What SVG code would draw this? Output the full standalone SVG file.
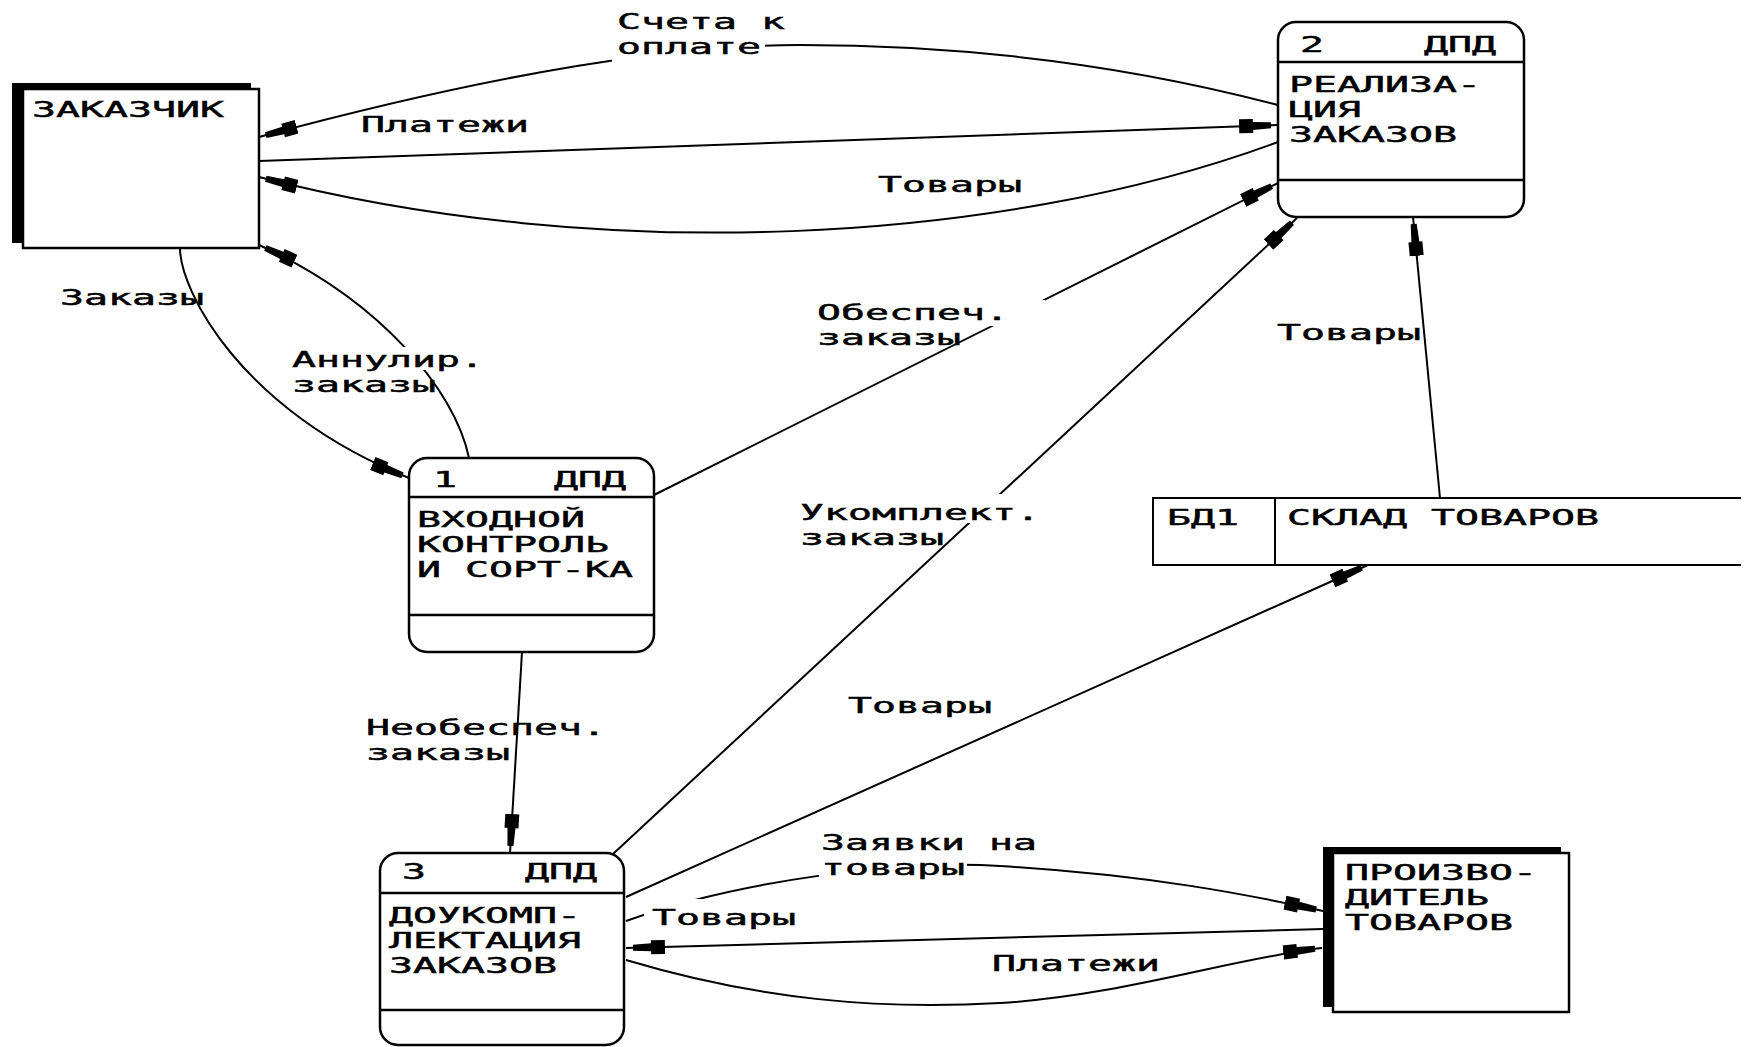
<svg xmlns="http://www.w3.org/2000/svg" width="1746" height="1047" viewBox="0 0 1746 1047">
<style>
  text { font-family: "DejaVu Sans Mono", "Liberation Mono", monospace; font-size: 21.5px; fill: #000; stroke: #000; stroke-width: 0.45; }
  .box { fill: #fff; stroke: #000; stroke-width: 2.5; }
  .shadow { fill: #000; }
  .div { stroke: #000; stroke-width: 2.5; fill: none; }
  .conn { fill: none; stroke: #000; stroke-width: 2; }
  .arr { marker-end: url(#ah); }
  .mask { fill: #fff; }
</style>
<defs>
  <marker id="ah" viewBox="0 -8 39 16" markerWidth="39" markerHeight="16" refX="39" refY="0" orient="auto" markerUnits="userSpaceOnUse">
    <path d="M0,-7 H14 V-4 L32,-3 V3 L14,4 V7 H0 Z" fill="#000"/>
  </marker>
</defs>
<rect width="1746" height="1047" fill="#fff"/>

<g id="zakazchik">
  <rect class="shadow" x="12" y="83" width="239" height="160"/>
  <rect class="box" x="23" y="89" width="236" height="159"/>
  <text x="32" y="117" textLength="192" lengthAdjust="spacingAndGlyphs">ЗАКАЗЧИК</text>
</g>

<g id="process1">
  <rect class="box" x="409" y="458" width="245" height="194" rx="18" ry="18"/>
  <line class="div" x1="409" y1="497" x2="654" y2="497"/>
  <line class="div" x1="409" y1="615" x2="654" y2="615"/>
  <text x="433" y="487" textLength="24" lengthAdjust="spacingAndGlyphs">1</text>
  <text x="554" y="487" textLength="72" lengthAdjust="spacingAndGlyphs">ДПД</text>
  <text x="417" y="527" textLength="168" lengthAdjust="spacingAndGlyphs">ВХОДНОЙ</text>
  <text x="417" y="552" textLength="192" lengthAdjust="spacingAndGlyphs">КОНТРОЛЬ</text>
  <text x="417" y="577" textLength="216" lengthAdjust="spacingAndGlyphs">И СОРТ-КА</text>
</g>

<g id="process2">
  <rect class="box" x="1278" y="22" width="246" height="195" rx="18" ry="18"/>
  <line class="div" x1="1278" y1="62" x2="1524" y2="62"/>
  <line class="div" x1="1278" y1="180" x2="1524" y2="180"/>
  <text x="1300" y="52" textLength="24" lengthAdjust="spacingAndGlyphs">2</text>
  <text x="1424" y="52" textLength="72" lengthAdjust="spacingAndGlyphs">ДПД</text>
  <text x="1289" y="92" textLength="192" lengthAdjust="spacingAndGlyphs">РЕАЛИЗА-</text>
  <text x="1289" y="117" textLength="72" lengthAdjust="spacingAndGlyphs">ЦИЯ</text>
  <text x="1289" y="142" textLength="168" lengthAdjust="spacingAndGlyphs">ЗАКАЗОВ</text>
</g>

<g id="process3">
  <rect class="box" x="380" y="853" width="244" height="192" rx="18" ry="18"/>
  <line class="div" x1="380" y1="893" x2="624" y2="893"/>
  <line class="div" x1="380" y1="1010" x2="624" y2="1010"/>
  <text x="402" y="879" textLength="24" lengthAdjust="spacingAndGlyphs">3</text>
  <text x="525" y="879" textLength="72" lengthAdjust="spacingAndGlyphs">ДПД</text>
  <text x="389" y="923" textLength="192" lengthAdjust="spacingAndGlyphs">ДОУКОМП-</text>
  <text x="389" y="948" textLength="192" lengthAdjust="spacingAndGlyphs">ЛЕКТАЦИЯ</text>
  <text x="389" y="973" textLength="168" lengthAdjust="spacingAndGlyphs">ЗАКАЗОВ</text>
</g>

<g id="store1">
  <path class="conn" d="M1741,498 H1153 V565 H1741 M1275,498 V565"/>
  <text x="1167" y="525" textLength="72" lengthAdjust="spacingAndGlyphs">БД1</text>
  <text x="1287" y="525" textLength="312" lengthAdjust="spacingAndGlyphs">СКЛАД ТОВАРОВ</text>
</g>

<g id="proizvoditel">
  <rect class="shadow" x="1323" y="847" width="238" height="160"/>
  <rect class="box" x="1333" y="853" width="236" height="159"/>
  <text x="1345" y="880" textLength="192" lengthAdjust="spacingAndGlyphs">ПРОИЗВО-</text>
  <text x="1345" y="905" textLength="144" lengthAdjust="spacingAndGlyphs">ДИТЕЛЬ</text>
  <text x="1345" y="930" textLength="168" lengthAdjust="spacingAndGlyphs">ТОВАРОВ</text>
</g>

<g id="connectors">
  <path id="c-scheta" class="conn arr" d="M1278,105 Q1050,45 800,45 Q600,45 259,137"/>
  <path id="c-platezhi1" class="conn arr" d="M259,161 L1278,125"/>
  <path id="c-tovary1" class="conn arr" d="M1278,142 C1000,245 600,265 259,177"/>
  <path id="c-zakazy" class="conn arr" d="M180,248 C180,290 240,410 409,478"/>
  <path id="c-annulir" class="conn arr" d="M469,458 C455,390 380,300 259,245"/>
  <path id="c-obespech" class="conn arr" d="M654,495 L1278,183"/>
  <path id="c-ukomplekt" class="conn arr" d="M613,854 L1297,218"/>
  <path id="c-tovary-store-2" class="conn arr" d="M1440,498 L1413,217"/>
  <path id="c-tovary-3-store" class="conn arr" d="M626,897 L1368,565"/>
  <path id="c-neobespech" class="conn arr" d="M522,652 L510,853"/>
  <path id="c-zayavki" class="conn arr" d="M626,921 C740,880 900,860 1000,866 C1150,875 1250,895 1323,911"/>
  <path id="c-tovary-prod-3" class="conn arr" d="M1323,929 L626,948"/>
  <path id="c-platezhi2" class="conn arr" d="M626,960 C760,1000 880,1010 1000,1003 C1120,996 1235,958 1322,948"/>
</g>

<g id="labels">
  <rect class="mask" x="612" y="36" width="153" height="26"/>
  <rect class="mask" x="290" y="347" width="196" height="23"/>
  <rect class="mask" x="815" y="300" width="230" height="26"/>
  <rect class="mask" x="798" y="494" width="244" height="29"/>
  <rect class="mask" x="819" y="858" width="148" height="24"/>
  <rect class="mask" x="644" y="899" width="154" height="30"/>

  <text x="617" y="29" textLength="168" lengthAdjust="spacingAndGlyphs">Счета к</text>
  <text x="617" y="54" textLength="144" lengthAdjust="spacingAndGlyphs">оплате</text>
  <text x="361" y="132" textLength="168" lengthAdjust="spacingAndGlyphs">Платежи</text>
  <text x="878" y="192" textLength="144" lengthAdjust="spacingAndGlyphs">Товары</text>
  <text x="60" y="305" textLength="144" lengthAdjust="spacingAndGlyphs">Заказы</text>
  <text x="292" y="367" textLength="192" lengthAdjust="spacingAndGlyphs">Аннулир.</text>
  <text x="292" y="392" textLength="144" lengthAdjust="spacingAndGlyphs">заказы</text>
  <text x="817" y="320" textLength="192" lengthAdjust="spacingAndGlyphs">Обеспеч.</text>
  <text x="817" y="345" textLength="144" lengthAdjust="spacingAndGlyphs">заказы</text>
  <text x="1277" y="340" textLength="144" lengthAdjust="spacingAndGlyphs">Товары</text>
  <text x="800" y="520" textLength="240" lengthAdjust="spacingAndGlyphs">Укомплект.</text>
  <text x="800" y="545" textLength="144" lengthAdjust="spacingAndGlyphs">заказы</text>
  <text x="848" y="713" textLength="144" lengthAdjust="spacingAndGlyphs">Товары</text>
  <text x="366" y="735" textLength="240" lengthAdjust="spacingAndGlyphs">Необеспеч.</text>
  <text x="366" y="760" textLength="144" lengthAdjust="spacingAndGlyphs">заказы</text>
  <text x="821" y="850" textLength="216" lengthAdjust="spacingAndGlyphs">Заявки на</text>
  <text x="821" y="875" textLength="144" lengthAdjust="spacingAndGlyphs">товары</text>
  <text x="652" y="925" textLength="144" lengthAdjust="spacingAndGlyphs">Товары</text>
  <text x="992" y="971" textLength="168" lengthAdjust="spacingAndGlyphs">Платежи</text>
</g>
</svg>
